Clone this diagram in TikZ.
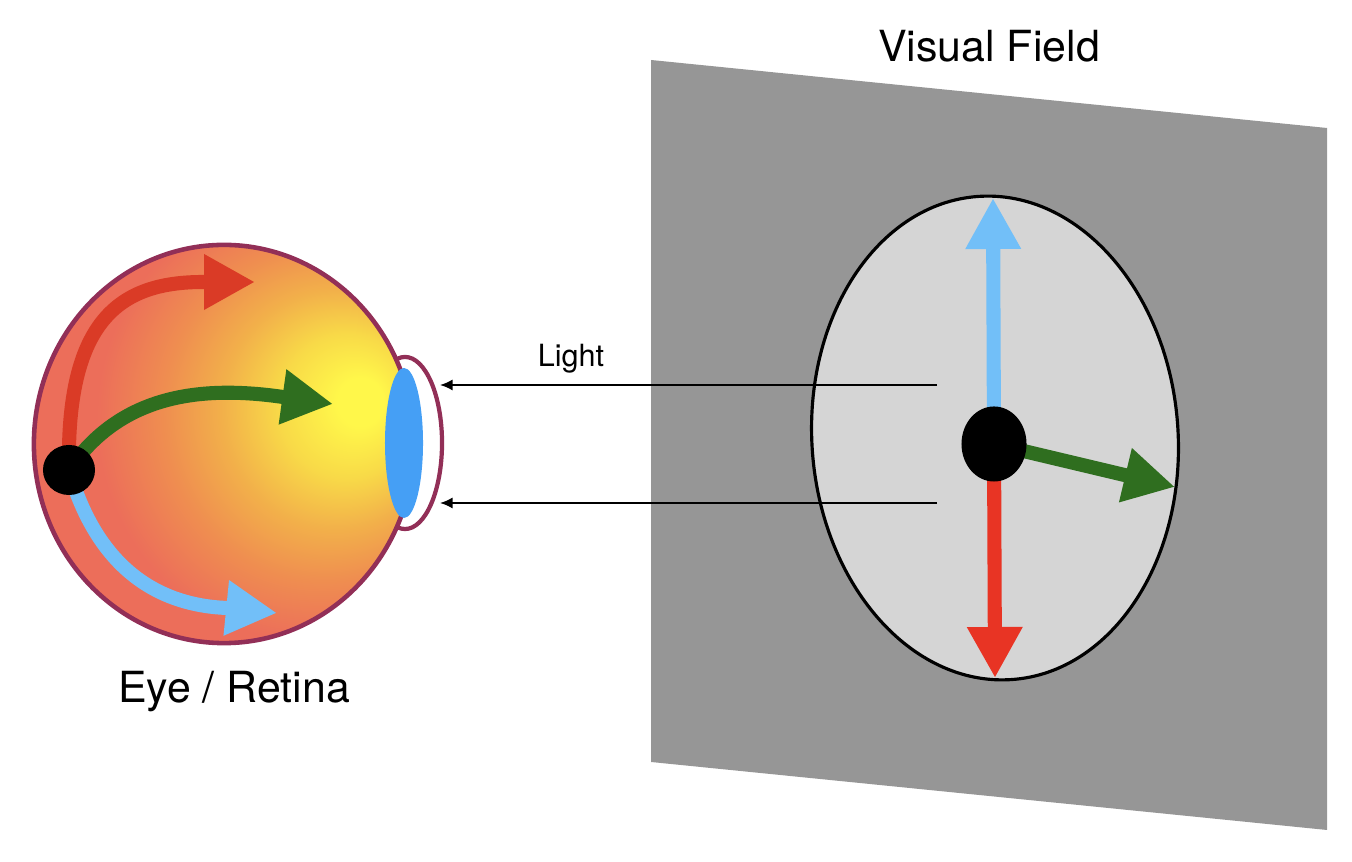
\documentclass[tikz,border=0pt]{standalone}
\usepackage{fontspec}
\setmainfont{TeX Gyre Heros}
\usetikzlibrary{arrows.meta, shapes.geometric, positioning}
\definecolor{rim}{HTML}{922F57}
\definecolor{lensblue}{HTML}{459FF5}
\definecolor{skyblue}{HTML}{72BFF8}
\definecolor{leaf}{HTML}{2F6E1F}
\definecolor{brick}{HTML}{DA3B26}
\definecolor{scarlet}{HTML}{E83424}
\definecolor{panelgray}{HTML}{969696}
\definecolor{fieldgray}{HTML}{D5D5D5}
\definecolor{glowyellow}{HTML}{FFF74A}
\definecolor{glowlemon}{HTML}{F8DA48}
\definecolor{glowamber}{HTML}{F2B04A}
\definecolor{gloworange}{HTML}{EF8E50}
\definecolor{glowsalmon}{HTML}{EC6E5A}
\pgfdeclareradialshading{eyeglow}{\pgfpoint{18.75bp}{5.5bp}}{color(0bp)=(glowyellow); color(3bp)=(glowyellow); color(9bp)=(glowlemon); color(15bp)=(glowamber); color(21bp)=(gloworange); color(28bp)=(glowsalmon); color(70bp)=(glowsalmon)}
\tikzstyle{eyeball}=[ellipse, draw=rim, line width=1.3pt, shading=eyeglow, minimum width=3.8cm, minimum height=3.98cm, inner sep=0pt]
\tikzstyle{cornea}=[ellipse, draw=rim, line width=1.2pt, fill=white, minimum width=0.74cm, minimum height=1.72cm, inner sep=0pt]
\tikzstyle{lens}=[ellipse, fill=lensblue, minimum width=0.38cm, minimum height=1.5cm, inner sep=0pt]
\tikzstyle{field}=[ellipse, draw=black, line width=0.9pt, fill=fieldgray, minimum width=3.66cm, minimum height=4.84cm, inner sep=0pt]
\tikzstyle{disc}=[ellipse, fill=black, inner sep=0pt]
\tikzstyle{fat}=[line width=4pt, -{Triangle[length=14.5pt, width=14.8pt]}]
\tikzstyle{ray}=[line width=0.55pt, -{Latex[length=3.6pt, width=3.2pt]}]
\tikzstyle{caption}=[font=\fontsize{12.2}{15}\selectfont, anchor=base, inner sep=0pt]
\newcommand{\disc}{\node[disc]}

\begin{document}
\begin{tikzpicture}[x=0.01cm, y=-0.01cm]
            \useasboundingbox (0,0) rectangle (1352,862);
            % visual field
            \fill[panelgray] (651,60) -- (1327,128) -- (1327,830) -- (651,762) -- cycle;
            \node[field, rotate=4] (field) at (995,438) {};
            \coordinate (fix) at (994,444);
            \coordinate (vfup) at (993,198);
            \coordinate (vfdown) at (995,678);
            \coordinate (vfright) at (1175,487);
            \draw[fat, skyblue] (fix) -- (vfup);
            \draw[fat, scarlet] (fix) -- (vfdown);
            \draw[fat, leaf] (fix) -- (vfright);
            \disc (fixation) at (fix) [minimum width=0.65cm, minimum height=0.75cm]{};
            % eye
            \node[cornea] (cornea) at (405,443) {};
            \node[eyeball] (eye) at (224,444) {};
            \node[lens] (lens) at (404,443) {};
            \coordinate (optic) at (69,470);
            \coordinate (redtip) at (255,282);
            \coordinate (greentip) at (333,404);
            \coordinate (bluetip) at (277,613);
            \draw[fat, brick] (optic) .. controls (66,320) and (120,282) .. (203,282) -- (redtip);
            \draw[fat, leaf] (optic) .. controls (120,395) and (200,385) .. (283,397) -- (greentip);
            \draw[fat, skyblue] (optic) .. controls (95,560) and (150,605) .. (227,608) -- (bluetip);
            \disc (disc) at (optic) [minimum width=0.52cm, minimum height=0.5cm]{};
            % light
            \coordinate (src1) at (937,385);
            \coordinate (dst1) at (440,385);
            \coordinate (src2) at (937,503);
            \coordinate (dst2) at (440,503);
            \draw[ray] (src1) -- (dst1);
            \draw[ray] (src2) -- (dst2);
            \node[caption, font=\fontsize{8.7}{10}\selectfont] (light) at (571,367) {Light};
            \node[caption] (vftitle) at (989,62) {Visual Field};
            \node[caption] (eyetitle) at (234,703) {Eye / Retina};
        \end{tikzpicture}
\end{document}
